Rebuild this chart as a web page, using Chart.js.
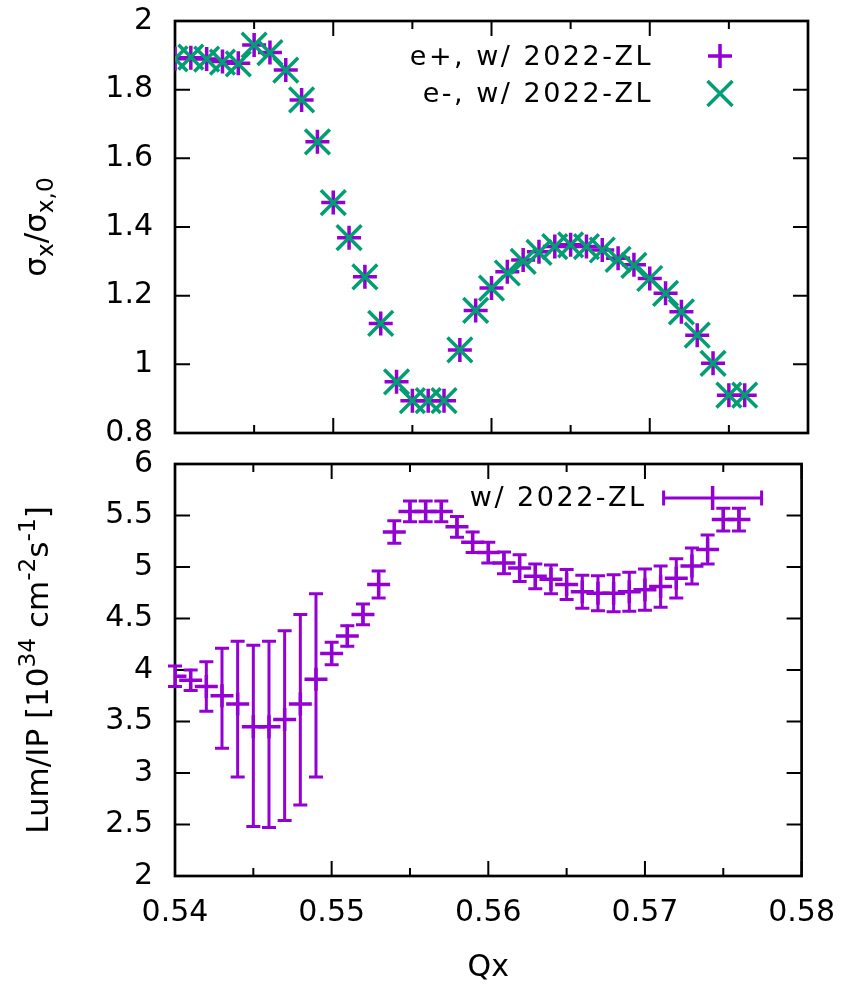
<!DOCTYPE html>
<html>
<head>
<meta charset="utf-8">
<script src="https://cdn.jsdelivr.net/npm/chart.js@4.4.1/dist/chart.umd.min.js"></script>
<style>
    body { margin: 0; background: #fff; }
    #wrap { position: relative; width: 854px; height: 988px; overflow: hidden; }
    #wrap canvas { position: absolute; left: 0; top: 0; }
    /* chart.js keeps half a label + tick padding above the plot, so shift this canvas up */
    #sizeChart { top: -19px !important; }
</style>
</head>
<body>
<div id="wrap">
    <canvas id="sizeChart" width="854" height="988"></canvas>
    <canvas id="lumChart" width="854" height="988"></canvas>
</div>
<script>
const qx = [0.540, 0.541, 0.542, 0.543, 0.544, 0.545, 0.546, 0.547, 0.548, 0.549,
            0.550, 0.551, 0.552, 0.553, 0.554, 0.555, 0.556, 0.557, 0.558, 0.559,
            0.560, 0.561, 0.562, 0.563, 0.564, 0.565, 0.566, 0.567, 0.568, 0.569,
            0.570, 0.571, 0.572, 0.573, 0.574, 0.575, 0.576];

// sigma_x / sigma_x,0
const sizePos = [1.890, 1.893, 1.889, 1.882, 1.877, 1.930, 1.908, 1.857, 1.770, 1.648,
                 1.471, 1.369, 1.255, 1.119, 0.949, 0.894, 0.894, 0.894, 1.042, 1.157,
                 1.222, 1.270, 1.304, 1.328, 1.343, 1.348, 1.343, 1.333, 1.309, 1.290,
                 1.250, 1.207, 1.153, 1.085, 1.003, 0.910, 0.910];
const sizeEle = [1.890, 1.895, 1.889, 1.880, 1.875, 1.930, 1.908, 1.857, 1.770, 1.648,
                 1.471, 1.369, 1.255, 1.119, 0.949, 0.894, 0.894, 0.894, 1.042, 1.157,
                 1.222, 1.266, 1.300, 1.326, 1.343, 1.348, 1.343, 1.333, 1.306, 1.288,
                 1.250, 1.207, 1.153, 1.085, 1.003, 0.910, 0.910];

// Lum/IP with error range
const lumVal  = [3.94, 3.90, 3.84, 3.75, 3.67, 3.45, 3.45, 3.52, 3.67, 3.91,
                 4.16, 4.33, 4.54, 4.83, 5.34, 5.54, 5.54, 5.54, 5.39, 5.24,
                 5.14, 5.04, 4.99, 4.91, 4.88, 4.83, 4.76, 4.745, 4.745, 4.76,
                 4.78, 4.81, 4.89, 5.01, 5.17, 5.46, 5.46];
const lumLow  = [3.84, 3.80, 3.60, 3.24, 2.96, 2.48, 2.47, 2.54, 2.69, 2.96,
                 4.05, 4.23, 4.44, 4.70, 5.23, 5.44, 5.44, 5.44, 5.29, 5.14,
                 5.04, 4.935, 4.86, 4.79, 4.74, 4.685, 4.60, 4.575, 4.565, 4.57,
                 4.58, 4.61, 4.70, 4.835, 5.03, 5.35, 5.35];
const lumHigh = [4.04, 4.00, 4.08, 4.21, 4.28, 4.24, 4.28, 4.38, 4.54, 4.74,
                 4.27, 4.43, 4.64, 4.96, 5.45, 5.64, 5.64, 5.64, 5.49, 5.34,
                 5.24, 5.145, 5.12, 5.03, 5.02, 4.975, 4.92, 4.915, 4.925, 4.95,
                 4.98, 5.01, 5.08, 5.185, 5.31, 5.57, 5.57];

const xMin = 0.54, xMax = 0.58, xStep = 0.01;
const sizeYMin = 0.8, sizeYMax = 2, sizeYStep = 0.2;
const lumYMin = 2, lumYMax = 6, lumYStep = 0.5;

const legendPos = 'e+, w/ 2022-ZL';
const legendEle = 'e-, w/ 2022-ZL';
const legendLum = 'w/ 2022-ZL';

const PURPLE = '#9400D3';
const GREEN = '#009E73';
const FONT = 'DejaVu Sans';

const fmt = v => String(parseFloat(v.toFixed(2)));

// border and inward ticks like gnuplot
const framePlugin = {
    id: 'frame',
    beforeDatasetsDraw(chart) {
        const { ctx, chartArea: a, scales: { x, y } } = chart;
        ctx.save();
        ctx.strokeStyle = '#000';
        ctx.lineWidth = 2;
        ctx.beginPath();
        const xt = x.ticks.map(t => t.value);
        xt.forEach((v, i) => {
            const px = x.getPixelForValue(v);
            ctx.moveTo(px, a.bottom); ctx.lineTo(px, a.bottom - 15);
            ctx.moveTo(px, a.top); ctx.lineTo(px, a.top + 15);
            if (i < xt.length - 1) {
                const pm = x.getPixelForValue((v + xt[i + 1]) / 2);
                ctx.moveTo(pm, a.bottom); ctx.lineTo(pm, a.bottom - 8);
                ctx.moveTo(pm, a.top); ctx.lineTo(pm, a.top + 8);
            }
        });
        y.ticks.forEach(t => {
            const py = y.getPixelForValue(t.value);
            ctx.moveTo(a.left, py); ctx.lineTo(a.left + 15, py);
            ctx.moveTo(a.right, py); ctx.lineTo(a.right - 15, py);
        });
        ctx.stroke();
        ctx.lineWidth = 2.7;
        ctx.strokeRect(a.left, a.top, a.right - a.left, a.bottom - a.top);
        ctx.restore();
    }
};

function drawRich(ctx, parts, cx, cy, size) {
    ctx.save();
    ctx.translate(cx, cy);
    ctx.rotate(-Math.PI / 2);
    ctx.fillStyle = '#000';
    ctx.textBaseline = 'alphabetic';
    ctx.textAlign = 'left';
    let total = 0;
    parts.forEach(p => {
        ctx.font = `${p.s ? size * 0.75 : size}px "${FONT}"`;
        p.w = ctx.measureText(p.t).width;
        total += p.w;
    });
    let x = -total / 2;
    parts.forEach(p => {
        ctx.font = `${p.s ? size * 0.75 : size}px "${FONT}"`;
        const dy = p.s === 'sup' ? -size * 0.42 : p.s === 'sub' ? size * 0.22 : 0;
        ctx.fillText(p.t, x, dy);
        x += p.w;
    });
    ctx.restore();
}

function legendText(ctx, text, x, y) {
    ctx.font = `27px "${FONT}"`;
    ctx.letterSpacing = '2.5px';
    ctx.fillStyle = '#000';
    ctx.textAlign = 'right';
    ctx.textBaseline = 'middle';
    ctx.fillText(text, x, y);
    ctx.letterSpacing = '0px';
}

const sizeDecor = {
    id: 'sizeDecor',
    afterDraw(chart) {
        const { ctx, chartArea: a } = chart;
        drawRich(ctx, [{ t: 'σ' }, { t: 'x', s: 'sub' }, { t: '/σ' }, { t: 'x,0', s: 'sub' }],
            46, (a.top + a.bottom) / 2, 31);
        ctx.save();
        legendText(ctx, legendPos, a.right - 155, a.top + 37);
        legendText(ctx, legendEle, a.right - 155, a.top + 74);
        const mx = a.right - 88;
        ctx.lineWidth = 3.5;
        ctx.strokeStyle = PURPLE;
        ctx.beginPath();
        ctx.moveTo(mx - 12, a.top + 35); ctx.lineTo(mx + 12, a.top + 35);
        ctx.moveTo(mx, a.top + 23); ctx.lineTo(mx, a.top + 47);
        ctx.stroke();
        ctx.strokeStyle = GREEN;
        ctx.beginPath();
        ctx.moveTo(mx - 12.5, a.top + 60); ctx.lineTo(mx + 12.5, a.top + 85);
        ctx.moveTo(mx + 12.5, a.top + 60); ctx.lineTo(mx - 12.5, a.top + 85);
        ctx.stroke();
        ctx.restore();
    }
};

const lumDecor = {
    id: 'lumDecor',
    beforeDatasetsDraw(chart) {
        const { ctx, scales: { x, y } } = chart;
        ctx.save();
        ctx.strokeStyle = PURPLE;
        ctx.lineWidth = 3;
        ctx.beginPath();
        qx.forEach((q, i) => {
            const px = x.getPixelForValue(q);
            const pl = y.getPixelForValue(lumLow[i]);
            const ph = y.getPixelForValue(lumHigh[i]);
            ctx.moveTo(px, pl); ctx.lineTo(px, ph);
            ctx.moveTo(px - 7, pl); ctx.lineTo(px + 7, pl);
            ctx.moveTo(px - 7, ph); ctx.lineTo(px + 7, ph);
        });
        ctx.stroke();
        ctx.restore();
    },
    afterDraw(chart) {
        const { ctx, chartArea: a } = chart;
        drawRich(ctx, [{ t: 'Lum/IP [10' }, { t: '34', s: 'sup' }, { t: ' cm' }, { t: '-2', s: 'sup' },
            { t: 's' }, { t: '-1', s: 'sup' }, { t: ']' }], 48, (a.top + a.bottom) / 2, 31);
        ctx.save();
        legendText(ctx, legendLum, a.right - 155, a.top + 35);
        const ly = a.top + 34;
        const mx = a.right - 89;
        ctx.strokeStyle = PURPLE;
        ctx.lineWidth = 3;
        ctx.beginPath();
        ctx.moveTo(mx - 49, ly); ctx.lineTo(mx + 49, ly);
        ctx.moveTo(mx - 49, ly - 7.5); ctx.lineTo(mx - 49, ly + 7.5);
        ctx.moveTo(mx + 49, ly - 7.5); ctx.lineTo(mx + 49, ly + 7.5);
        ctx.stroke();
        ctx.lineWidth = 3.5;
        ctx.beginPath();
        ctx.moveTo(mx, ly - 12); ctx.lineTo(mx, ly + 12);
        ctx.stroke();
        ctx.restore();
    }
};

function yAxis(min, max, step) {
    return {
        min: min, max: max,
        ticks: { stepSize: step, padding: 22, color: '#000', font: { family: FONT, size: 30 }, callback: v => fmt(v) },
        grid: { display: false, drawTicks: false },
        border: { display: false },
        afterFit: s => { s.width = 175; }
    };
}

new Chart(document.getElementById('sizeChart'), {
    type: 'scatter',
    data: {
        datasets: [{
            label: legendPos,
            data: qx.map((q, i) => ({ x: q, y: sizePos[i] })),
            pointStyle: 'cross',
            pointRadius: 12,
            borderColor: PURPLE,
            backgroundColor: PURPLE,
            borderWidth: 3.5,
            order: 2
        }, {
            label: legendEle,
            data: qx.map((q, i) => ({ x: q, y: sizeEle[i] })),
            pointStyle: 'crossRot',
            pointRadius: 17.5,
            borderColor: GREEN,
            backgroundColor: GREEN,
            borderWidth: 3.5,
            order: 1
        }]
    },
    options: {
        responsive: false,
        animation: false,
        events: [],
        layout: { padding: { left: 0, right: 46, top: 40, bottom: 536 } },
        plugins: { legend: { display: false }, tooltip: { enabled: false } },
        scales: {
            x: {
                type: 'linear', min: xMin, max: xMax,
                ticks: { display: false, stepSize: xStep },
                grid: { display: false, drawTicks: false },
                border: { display: false },
                afterFit: s => { s.height = 0; }
            },
            y: yAxis(sizeYMin, sizeYMax, sizeYStep)
        }
    },
    plugins: [framePlugin, sizeDecor]
});

new Chart(document.getElementById('lumChart'), {
    type: 'scatter',
    data: {
        datasets: [{
            label: legendLum,
            data: qx.map((q, i) => ({ x: q, y: lumVal[i] })),
            pointStyle: 'cross',
            pointRadius: 11.5,
            borderColor: PURPLE,
            backgroundColor: PURPLE,
            borderWidth: 3.5
        }]
    },
    options: {
        responsive: false,
        animation: false,
        events: [],
        layout: { padding: { left: 0, right: 46, top: 464, bottom: 0 } },
        plugins: { legend: { display: false }, tooltip: { enabled: false } },
        scales: {
            x: {
                type: 'linear', min: xMin, max: xMax,
                ticks: { stepSize: xStep, padding: 19, maxRotation: 0, color: '#000',
                         font: { family: FONT, size: 30 }, callback: v => v.toFixed(2) },
                grid: { display: false, drawTicks: false },
                border: { display: false },
                title: { display: true, text: 'Qx', color: '#000', font: { family: FONT, size: 30 },
                         padding: { top: 0, bottom: 2 } },
                afterFit: s => { s.height = 112; }
            },
            y: yAxis(lumYMin, lumYMax, lumYStep)
        }
    },
    plugins: [framePlugin, lumDecor]
});
</script>
</body>
</html>
